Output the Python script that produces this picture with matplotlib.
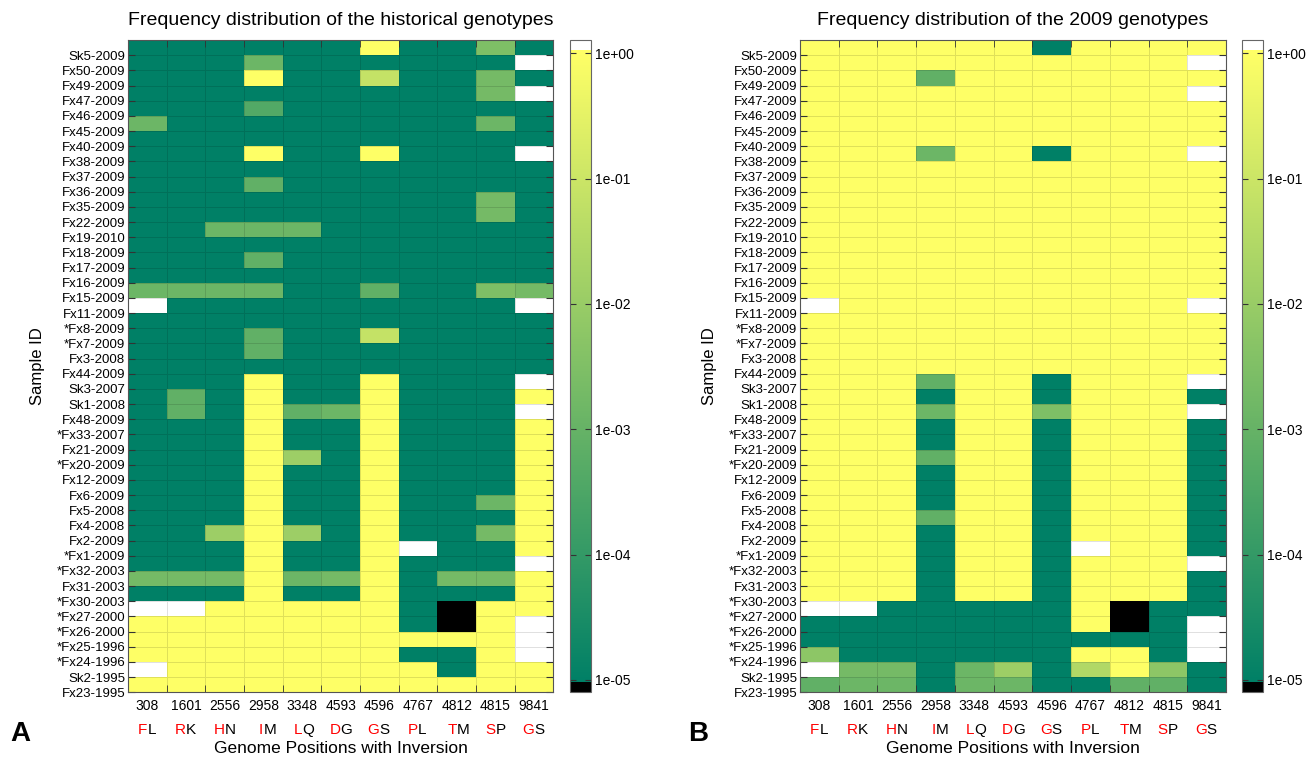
import matplotlib
matplotlib.use("Agg")
import matplotlib.pyplot as plt
import numpy as np
from matplotlib.colors import LogNorm

plt.rcParams["font.family"] = ["Liberation Sans", "DejaVu Sans"]

samples = [
    "Sk5-2009", "Fx50-2009", "Fx49-2009", "Fx47-2009", "Fx46-2009",
    "Fx45-2009", "Fx40-2009", "Fx38-2009", "Fx37-2009", "Fx36-2009",
    "Fx35-2009", "Fx22-2009", "Fx19-2010", "Fx18-2009", "Fx17-2009",
    "Fx16-2009", "Fx15-2009", "Fx11-2009", "*Fx8-2009", "*Fx7-2009",
    "Fx3-2008", "Fx44-2009", "Sk3-2007", "Sk1-2008", "Fx48-2009",
    "*Fx33-2007", "Fx21-2009", "*Fx20-2009", "Fx12-2009", "Fx6-2009",
    "Fx5-2008", "Fx4-2008", "Fx2-2009", "*Fx1-2009", "*Fx32-2003",
    "Fx31-2003", "*Fx30-2003", "*Fx27-2000", "*Fx26-2000", "*Fx25-1996",
    "*Fx24-1996", "Sk2-1995", "Fx23-1995",
]

positions = ["308", "1601", "2556", "2958", "3348", "4593", "4596",
             "4767", "4812", "4815", "9841"]

# first letter (red) -> second letter (black)
residues = [("F", "L"), ("R", "K"), ("H", "N"), ("I", "M"), ("L", "Q"),
            ("D", "G"), ("G", "S"), ("P", "L"), ("T", "M"), ("S", "P"),
            ("G", "S")]

# cell codes -> frequency; W = no data (white), K = zero (black)
levels = {
    ".": 1e-5, "a": 4e-4, "b": 8e-4, "c": 1.3e-3, "d": 2e-3, "e": 3e-3,
    "f": 6e-3, "g": 1.2e-2, "h": 3e-2, "i": 7e-2, "Y": 1.0,
    "W": np.nan, "K": 1e-7,
}

historical = [
    "......Y..e.", "...c......W", "...Y..i..d.", ".........dW",
    "...a.......", "c........c.", "...........", "...Y..Y...W",
    "...........", "...b.......", ".........d.", ".........d.",
    "..ccc......", "...........", "...b.......", "...........",
    "cccc..b..ed", "W.........W", "...........", "...b..i....",
    "...b.......", "...........", "...Y..Y...W", ".b.Y..Y...Y",
    ".b.YbcY...W", "...Y..Y...Y", "...Y..Y...Y", "...Yg.Y...Y",
    "...Y..Y...Y", "...Y..Y...Y", "...Y..Y..cY", "...Y..Y...Y",
    "..gYg.Y..dY", "...Y..YW..Y", "...Y..Y...W", "dddYcdY.ddY",
    "...Y..Y...Y", "WWYYYYY.KYY", "YYYYYYY.KYW", "YYYYYYYYYYW",
    "YYYYYYY..YW", "WYYYYYYY.YY", "YYYYYYYYYYY",
]

recent = [
    "YYYYYY.YYYY", "YYYYYYYYYYW", "YYYbYYYYYYY", "YYYYYYYYYYW",
    "YYYYYYYYYYY", "YYYYYYYYYYY", "YYYYYYYYYYY", "YYYcYY.YYYW",
    "YYYYYYYYYYY", "YYYYYYYYYYY", "YYYYYYYYYYY", "YYYYYYYYYYY",
    "YYYYYYYYYYY", "YYYYYYYYYYY", "YYYYYYYYYYY", "YYYYYYYYYYY",
    "YYYYYYYYYYY", "WYYYYYYYYYW", "YYYYYYYYYYY", "YYYYYYYYYYY",
    "YYYYYYYYYYY", "YYYYYYYYYYY", "YYYbYY.YYYW", "YYY.YY.YYY.",
    "YYYcYYeYYYW", "YYY.YY.YYY.", "YYY.YY.YYY.", "YYYbYY.YYY.",
    "YYY.YY.YYY.", "YYY.YY.YYY.", "YYY.YY.YYY.", "YYYbYY.YYY.",
    "YYY.YY.YYY.", "YYY.YY.WYY.", "YYY.YY.YYYW", "YYY.YY.YYY.",
    "YYY.YY.YYY.", "WW.....YK..", ".......YK.W", "..........W",
    "f......YY.W", "Wdd.cg.hYf.", "bcc.cc..bb.",
]

titles = ["Frequency distribution of the historical genotypes",
          "Frequency distribution of the 2009 genotypes"]


def to_matrix(rows):
    return np.array([[levels[ch] for ch in row] for row in rows], dtype=float)


def draw_panel(fig, ax, cax, rows, title, letter, letter_x):
    cmap = plt.get_cmap("summer").copy()
    cmap.set_bad("white")
    cmap.set_over("white")
    cmap.set_under("black")
    norm = LogNorm(vmin=9.6e-6, vmax=1.06)

    data = np.ma.masked_invalid(to_matrix(rows))
    nr, nc = data.shape
    mesh = ax.pcolormesh(np.arange(nc + 1), np.arange(nr + 1), data,
                         cmap=cmap, norm=norm,
                         edgecolors=(0, 0, 0, 0.12), linewidth=0.5)
    ax.set_xlim(0, nc)
    ax.set_ylim(nr, 0)

    ax.set_yticks(np.arange(1, nr + 1), labels=samples, fontsize=9.5)
    ax.tick_params(axis="y", direction="in", left=True, right=True,
                   length=5, pad=2, color="#333333")
    ax.set_xticks(np.arange(nc) + 0.5, labels=positions, fontsize=10)
    ax.tick_params(axis="x", which="major", length=0, pad=5)
    ax.set_xticks(np.arange(1, nc), minor=True)
    ax.tick_params(axis="x", which="minor", direction="in", top=True,
                   bottom=True, length=5, color="#333333")
    for spine in ax.spines.values():
        spine.set_color("#555555")
        spine.set_linewidth(0.8)

    for i, (orig, inv) in enumerate(residues):
        ax.text(i + 0.5, -0.058, orig, color="red", fontsize=11, ha="right",
                va="center", transform=ax.get_xaxis_transform())
        ax.text(i + 0.5, -0.058, inv, color="black", fontsize=11, ha="left",
                va="center", transform=ax.get_xaxis_transform())

    ax.set_title(title, fontsize=14, pad=11)
    ax.set_ylabel("Sample ID", fontsize=12, labelpad=8)
    ax.set_xlabel("Genome Positions with Inversion", fontsize=12.5,
                  labelpad=20)

    cbar = fig.colorbar(mesh, cax=cax, extend="both", extendrect=True,
                        extendfrac=0.016)
    ticks = [1e-5, 1e-4, 1e-3, 1e-2, 1e-1, 1e0]
    cbar.set_ticks(ticks, labels=["1e-05", "1e-04", "1e-03", "1e-02",
                                  "1e-01", "1e+00"])
    cbar.ax.minorticks_off()
    cbar.ax.tick_params(direction="in", left=True, right=True, length=4,
                        labelsize=10, pad=3, color="#333333")
    cbar.outline.set_edgecolor("#666666")
    cbar.outline.set_linewidth(0.8)

    fig.text(letter_x, 0.032, letter, fontsize=20, fontweight="bold",
             ha="left", va="center")


def main():
    fig = plt.figure(figsize=(13.15, 7.58), dpi=100)
    bottom = 1 - 692.3 / 758
    height = (692.3 - 40) / 758
    ax1 = fig.add_axes([128 / 1315, bottom, 425.4 / 1315, height])
    cax1 = fig.add_axes([569.5 / 1315, bottom, 21 / 1315, height])
    ax2 = fig.add_axes([800 / 1315, bottom, 426 / 1315, height])
    cax2 = fig.add_axes([1241.7 / 1315, bottom, 21.6 / 1315, height])

    draw_panel(fig, ax1, cax1, historical, titles[0], "A", 10 / 1315)
    draw_panel(fig, ax2, cax2, recent, titles[1], "B", 688 / 1315)

    fig.savefig("out.png", dpi=100, facecolor="white")
    plt.close(fig)


if __name__ == "__main__":
    main()
